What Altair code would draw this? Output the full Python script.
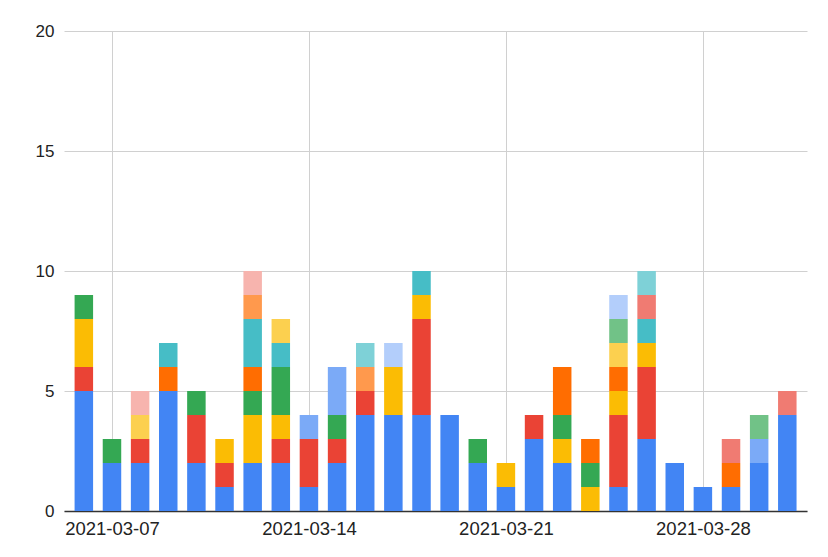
import altair as alt
import pandas as pd

dates = ["2021-03-06", "2021-03-07", "2021-03-08", "2021-03-09", "2021-03-10", "2021-03-11",
         "2021-03-12", "2021-03-13", "2021-03-14", "2021-03-15", "2021-03-16", "2021-03-17",
         "2021-03-18", "2021-03-19", "2021-03-20", "2021-03-21", "2021-03-22", "2021-03-23",
         "2021-03-24", "2021-03-25", "2021-03-26", "2021-03-27", "2021-03-28", "2021-03-29",
         "2021-03-30", "2021-03-31"]

series_names = ["S1", "S2", "S3", "S4", "S5", "S6", "S7", "S8", "S9", "S10", "S11", "S12", "S13", "S14"]
series_colors = ["#4285F4", "#EA4335", "#FBBC04", "#34A853", "#FF6D01", "#46BDC6", "#7BAAF7",
                 "#F07B72", "#FCD04F", "#71C287", "#FF994D", "#7ED1D7", "#B3CEFB", "#F7B4AE"]

s1 = [5, 2, 2, 5, 2, 1, 2, 2, 1, 2, 4, 4, 4, 4, 2, 1, 3, 2, 0, 1, 3, 2, 1, 1, 2, 4]
s2 = [1, 0, 1, 0, 2, 1, 0, 1, 2, 1, 1, 0, 4, 0, 0, 0, 1, 0, 0, 3, 3, 0, 0, 0, 0, 0]
s3 = [2, 0, 0, 0, 0, 1, 2, 1, 0, 0, 0, 2, 1, 0, 0, 1, 0, 1, 1, 1, 1, 0, 0, 0, 0, 0]
s4 = [1, 1, 0, 0, 1, 0, 1, 2, 0, 1, 0, 0, 0, 0, 1, 0, 0, 1, 1, 0, 0, 0, 0, 0, 0, 0]
s5 = [0, 0, 0, 1, 0, 0, 1, 0, 0, 0, 0, 0, 0, 0, 0, 0, 0, 2, 1, 1, 0, 0, 0, 1, 0, 0]
s6 = [0, 0, 0, 1, 0, 0, 2, 1, 0, 0, 0, 0, 1, 0, 0, 0, 0, 0, 0, 0, 1, 0, 0, 0, 0, 0]
s7 = [0, 0, 0, 0, 0, 0, 0, 0, 1, 2, 0, 0, 0, 0, 0, 0, 0, 0, 0, 0, 0, 0, 0, 0, 1, 0]
s8 = [0, 0, 0, 0, 0, 0, 0, 0, 0, 0, 0, 0, 0, 0, 0, 0, 0, 0, 0, 0, 1, 0, 0, 1, 0, 1]
s9 = [0, 0, 1, 0, 0, 0, 0, 1, 0, 0, 0, 0, 0, 0, 0, 0, 0, 0, 0, 1, 0, 0, 0, 0, 0, 0]
s10 = [0, 0, 0, 0, 0, 0, 0, 0, 0, 0, 0, 0, 0, 0, 0, 0, 0, 0, 0, 1, 0, 0, 0, 0, 1, 0]
s11 = [0, 0, 0, 0, 0, 0, 1, 0, 0, 0, 1, 0, 0, 0, 0, 0, 0, 0, 0, 0, 0, 0, 0, 0, 0, 0]
s12 = [0, 0, 0, 0, 0, 0, 0, 0, 0, 0, 1, 0, 0, 0, 0, 0, 0, 0, 0, 0, 1, 0, 0, 0, 0, 0]
s13 = [0, 0, 0, 0, 0, 0, 0, 0, 0, 0, 0, 1, 0, 0, 0, 0, 0, 0, 0, 1, 0, 0, 0, 0, 0, 0]
s14 = [0, 0, 1, 0, 0, 0, 1, 0, 0, 0, 0, 0, 0, 0, 0, 0, 0, 0, 0, 0, 0, 0, 0, 0, 0, 0]

all_series = [s1, s2, s3, s4, s5, s6, s7, s8, s9, s10, s11, s12, s13, s14]

tick_dates = ["2021-03-07", "2021-03-14", "2021-03-21", "2021-03-28"]
y_ticks = [0, 5, 10, 15, 20]

rows = []
for idx, (name, vals) in enumerate(zip(series_names, all_series)):
    for i, (d, v) in enumerate(zip(dates, vals)):
        if v > 0:
            rows.append({"day": i, "date": d, "series": name, "order": idx, "value": v})
df = pd.DataFrame(rows)

tick_pos = [dates.index(t) for t in tick_dates]
label_expr = "[{}][indexof([{}], datum.value)]".format(
    ",".join("'{}'".format(t) for t in tick_dates),
    ",".join(str(p) for p in tick_pos),
)

chart = alt.Chart(df).mark_bar(size=18.5).encode(
    x=alt.X(
        "day:Q",
        scale=alt.Scale(domain=[-0.705, len(dates) - 1 + 0.70], nice=False, zero=False, padding=0),
        axis=alt.Axis(
            values=tick_pos,
            labelExpr=label_expr,
            title=None,
            grid=True,
            gridColor="#d0d0d0",
            gridWidth=1,
            ticks=False,
            domain=True,
            domainColor="#333333",
            domainWidth=1.3,
            labelFont="Liberation Sans",
            labelFontSize=18.5,
            labelColor="#222222",
            labelPadding=8,
            labelFlush=False,
        ),
    ),
    y=alt.Y(
        "value:Q",
        stack="zero",
        scale=alt.Scale(domain=[0, 20], nice=False),
        axis=alt.Axis(
            values=y_ticks,
            title=None,
            grid=True,
            gridColor="#d0d0d0",
            gridWidth=1,
            ticks=False,
            domain=False,
            labelFont="Liberation Sans",
            labelFontSize=17,
            labelColor="#222222",
            labelPadding=10,
        ),
    ),
    color=alt.Color(
        "series:N",
        scale=alt.Scale(domain=series_names, range=series_colors),
        legend=None,
    ),
    order=alt.Order("order:Q", sort="ascending"),
    tooltip=["date:N", "series:N", "value:Q"],
).properties(
    width=743,
    height=480,
    autosize=alt.AutoSizeParams(type="none"),
    padding={"left": 56, "top": 23, "right": 13, "bottom": 38},
    background="white",
).configure_view(strokeWidth=0, stroke="transparent")

chart.save("out.html", embed_options={"renderer": "svg", "actions": False})
